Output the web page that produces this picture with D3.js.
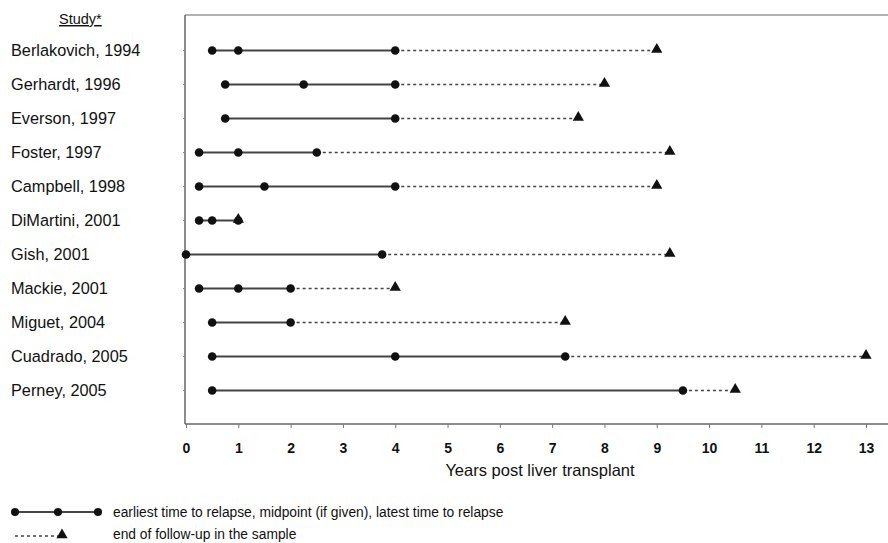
<!DOCTYPE html>
<html>
<head>
<meta charset="utf-8">
<script src="https://cdn.jsdelivr.net/npm/d3@7"></script>
<style>
  html, body { margin: 0; padding: 0; background: #fff; }
  svg { display: block; font-family: "Liberation Sans", Arial, sans-serif; }
</style>
</head>
<body>
<svg id="chart" width="888" height="543"></svg>
<script>
// Studies, top to bottom
const studies = [
  "Berlakovich, 1994", "Gerhardt, 1996", "Everson, 1997", "Foster, 1997",
  "Campbell, 1998", "DiMartini, 2001", "Gish, 2001", "Mackie, 2001",
  "Miguet, 2004", "Cuadrado, 2005", "Perney, 2005"
];
// Earliest time to relapse, midpoint (if given), latest time to relapse (years)
const relapseTimes = [
  [0.5, 1, 4],
  [0.75, 2.25, 4],
  [0.75, 4],
  [0.25, 1, 2.5],
  [0.25, 1.5, 4],
  [0.25, 0.5, 1],
  [0, 3.75],
  [0.25, 1, 2],
  [0.5, 2],
  [0.5, 4, 7.25],
  [0.5, 9.5]
];
// End of follow-up in the sample (years)
const followUpEnd = [9, 8, 7.5, 9.25, 9, 1, 9.25, 4, 7.25, 13, 10.5];
const xTicks = d3.range(0, 14);

const svg = d3.select("#chart");
const x = d3.scaleLinear().domain([0, 13]).range([186, 866]);
const y = d3.scaleLinear().domain([-1, 11]).range([16.5, 424.5]);
const axisY = 424;

const ink = "#111";
const lineCol = "#444";

// top frame line
svg.append("line")
  .attr("x1", 185).attr("x2", 888).attr("y1", 15).attr("y2", 15)
  .attr("stroke", "#999").attr("stroke-width", 1.6);

// x axis
const xAxis = d3.axisBottom(x).tickValues(xTicks).tickSize(4).tickSizeOuter(0).tickPadding(15);
const gx = svg.append("g").attr("transform", `translate(0,${axisY})`).call(xAxis);
gx.select(".domain").attr("d", `M185,0H888`).attr("stroke", "#666").attr("stroke-width", 1.5);
gx.selectAll(".tick line").attr("stroke", "#777");
gx.selectAll(".tick text")
  .attr("fill", ink).attr("font-size", 14).attr("font-weight", "bold")
  .attr("font-family", "'Liberation Sans Narrow', 'Liberation Sans', Arial, sans-serif");

// y axis line + small ticks
svg.append("line")
  .attr("x1", 185).attr("x2", 185).attr("y1", 15).attr("y2", axisY)
  .attr("stroke", "#666").attr("stroke-width", 1.5);
svg.append("g").selectAll("line").data(studies).join("line")
  .attr("x1", 183).attr("x2", 185)
  .attr("y1", (d, i) => y(i)).attr("y2", (d, i) => y(i))
  .attr("stroke", "#888").attr("stroke-width", 1);

// study labels
svg.append("text").attr("x", 59).attr("y", 24)
  .attr("font-size", 14.5).attr("fill", ink).attr("text-decoration", "underline")
  .text("Study*");
svg.append("g").selectAll("text").data(studies).join("text")
  .attr("x", 11).attr("y", (d, i) => y(i) + 5.5)
  .attr("font-size", 16.3).attr("fill", ink)
  .text(d => d);

const rows = studies.map((s, i) => ({
  i, pts: relapseTimes[i], end: followUpEnd[i]
}));

// dotted follow-up segments
svg.append("g").selectAll("line").data(rows).join("line")
  .attr("x1", d => x(d3.max(d.pts))).attr("x2", d => x(d.end))
  .attr("y1", d => y(d.i)).attr("y2", d => y(d.i))
  .attr("stroke", "#444").attr("stroke-width", 1.7)
  .attr("stroke-dasharray", "3,3");

// solid relapse segments
svg.append("g").selectAll("line").data(rows).join("line")
  .attr("x1", d => x(d3.min(d.pts))).attr("x2", d => x(d3.max(d.pts)))
  .attr("y1", d => y(d.i)).attr("y2", d => y(d.i))
  .attr("stroke", lineCol).attr("stroke-width", 1.8);

// triangles
const tri = d3.symbol().type(d3.symbolTriangle).size(55);
svg.append("g").selectAll("path").data(rows).join("path")
  .attr("d", tri)
  .attr("transform", d => `translate(${x(d.end)},${y(d.i) - 1})`)
  .attr("fill", ink);

// relapse circles
svg.append("g").selectAll("g").data(rows).join("g")
  .selectAll("circle").data(d => d.pts.map(p => ({ p, i: d.i }))).join("circle")
  .attr("cx", d => x(d.p)).attr("cy", d => y(d.i)).attr("r", 4.3)
  .attr("fill", ink);

// axis title
svg.append("text").attr("x", 540).attr("y", 476)
  .attr("text-anchor", "middle").attr("font-size", 16.5).attr("fill", ink)
  .text("Years post liver transplant");

// legend
const leg = svg.append("g");
const ly1 = 512, ly2 = 536;
leg.append("line").attr("x1", 15).attr("x2", 98).attr("y1", ly1).attr("y2", ly1)
  .attr("stroke", lineCol).attr("stroke-width", 1.8);
leg.selectAll("circle").data([15, 58, 98]).join("circle")
  .attr("cx", d => d).attr("cy", ly1).attr("r", 4).attr("fill", ink);
leg.append("text").attr("x", 113).attr("y", ly1 + 4.5)
  .attr("font-size", 13.8).attr("fill", ink)
  .text("earliest time to relapse, midpoint (if given), latest time to relapse");
leg.append("line").attr("x1", 15).attr("x2", 58).attr("y1", ly2).attr("y2", ly2)
  .attr("stroke", "#444").attr("stroke-width", 1.5).attr("stroke-dasharray", "3,3");
leg.append("path").attr("d", tri).attr("transform", `translate(62,${ly2 - 1})`).attr("fill", ink);
leg.append("text").attr("x", 113).attr("y", ly2 + 3)
  .attr("font-size", 13.8).attr("fill", ink)
  .text("end of follow-up in the sample");
</script>
</body>
</html>
